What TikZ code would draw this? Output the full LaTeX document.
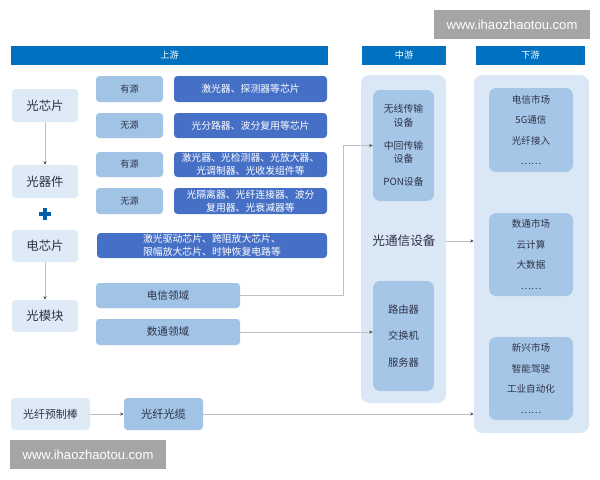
\documentclass[tikz,border=0pt]{standalone}
\usepackage{fontspec}
\setmainfont{Liberation Sans}
\newfontfamily\cjk{Noto Sans CJK SC}
\usetikzlibrary{arrows.meta}
\definecolor{hdr}{RGB}{0,112,192}
\definecolor{darkbox}{RGB}{70,112,198}
\definecolor{midbox}{RGB}{160,195,230}
\definecolor{lightbox}{RGB}{222,235,247}
\definecolor{outerbox}{RGB}{218,232,246}
\definecolor{innerbox}{RGB}{166,198,232}
\definecolor{txt}{RGB}{45,50,70}
\definecolor{wmgray}{RGB}{165,165,165}
\definecolor{conncol}{RGB}{190,190,195}
\tikzset{
  base/.style={inner sep=0pt, align=center, rounded corners=2.5pt},
  hdrbar/.style={base, rounded corners=0pt, fill=hdr, text=white, font=\cjk\fontsize{6.5}{8}\selectfont},
  lightnode/.style={base, fill=lightbox, text=txt, font=\cjk\fontsize{8.8}{10}\selectfont},
  srcnode/.style={base, fill=midbox, text=txt, font=\cjk\fontsize{6.5}{8}\selectfont},
  darknode/.style={base, fill=darkbox, text=white, font=\cjk\fontsize{7}{9.5}\selectfont},
  fieldnode/.style={base, fill=midbox, text=txt, font=\cjk\fontsize{7.5}{9}\selectfont},
  outernode/.style={base, rounded corners=6pt, fill=outerbox},
  innernode/.style={base, rounded corners=5pt, fill=innerbox, text=txt, font=\cjk\fontsize{7}{9.5}\selectfont},
  downnode/.style={base, rounded corners=5pt, fill=innerbox, text=txt, font=\cjk\fontsize{6.8}{14.5}\selectfont},
  wmnode/.style={inner sep=0pt, fill=wmgray, text=white, font=\fontsize{9.3}{11}\selectfont},
  conn/.style={draw=conncol, line width=0.6pt, -{Stealth[length=2.5pt,width=2.2pt,color=black!70]}},
}
\newcommand\bx[7]{\node[#6, minimum width={(#4-#2)*0.025cm}, minimum height={(#5-#3)*0.025cm}] (#1) at ({(#2+#4)/2},{(#3+#5)/2}) {#7};}
\begin{document}
\begin{tikzpicture}[x=0.025cm, y=-0.025cm]
\useasboundingbox[fill=white] (0,0) rectangle (600,480);
% watermarks
\bx{wmA}{434}{10}{590}{39}{wmnode}{www.ihaozhaotou.com}
\bx{wmB}{10}{440}{166}{469}{wmnode}{www.ihaozhaotou.com}
% headers
\bx{hU}{11}{46}{328}{65}{hdrbar}{上游}
\bx{hM}{362}{46}{446}{65}{hdrbar}{中游}
\bx{hD}{476}{46}{585}{65}{hdrbar}{下游}
% left column
\bx{chip}{12}{89}{78}{122}{lightnode}{光芯片}
\bx{dev}{12}{165}{78}{198}{lightnode}{光器件}
\bx{echip}{12}{230}{78}{262}{lightnode}{电芯片}
\bx{mod}{12}{300}{78}{332}{lightnode}{光模块}
\node[inner sep=0pt] (plus) at (45,214) {\tikz[x=0.025cm,y=-0.025cm]{\fill[hdr!85!black] (-6,-1.8) rectangle (6,1.8); \fill[hdr!85!black] (-1.8,-6) rectangle (1.8,6);}};
% source boxes
\bx{s1}{96}{76}{163}{102}{srcnode}{有源}
\bx{s2}{96}{113}{163}{138}{srcnode}{无源}
\bx{s3}{96}{152}{163}{177}{srcnode}{有源}
\bx{s4}{96}{188}{163}{214}{srcnode}{无源}
\bx{d1}{174}{76}{327}{102}{darknode}{激光器、探测器等芯片}
\bx{d2}{174}{113}{327}{138}{darknode}{光分路器、波分复用等芯片}
\bx{d3}{174}{152}{327}{177}{darknode}{激光器、光检测器、光放大器、\\光调制器、光收发组件等}
\bx{d4}{174}{188}{327}{214}{darknode}{光隔离器、光纤连接器、波分\\复用器、光衰减器等}
\bx{d5}{97}{233}{327}{258}{darknode}{激光驱动芯片、跨阻放大芯片、\\限幅放大芯片、时钟恢复电路等}
\bx{tel}{96}{283}{240}{308}{fieldnode}{电信领域}
\bx{dat}{96}{319}{240}{345}{fieldnode}{数通领域}
% bottom row
\bx{pre}{11}{398}{90}{430}{lightnode, font=\cjk\fontsize{7.8}{9}\selectfont}{光纤预制棒}
\bx{cable}{124}{398}{203}{430}{fieldnode, font=\cjk\fontsize{8}{9}\selectfont}{光纤光缆}
% midstream
\bx{mout}{361}{75}{446}{403}{outernode}{}
\bx{mtop}{373}{90}{434}{201}{innernode}{无线传输\\设备\\[7pt]中回传输\\设备\\[7pt]PON设备}
\bx{mbot}{373}{281}{434}{391}{innernode, font=\cjk\fontsize{7.3}{19}\selectfont}{路由器\\交换机\\服务器}
\node[inner sep=0pt, text=txt, font=\cjk\fontsize{9}{10}\selectfont] (comm) at (404,241) {光通信设备};
% downstream
\bx{dout}{474}{75}{589}{433}{outernode}{}
\bx{m1}{489}{88}{573}{172}{downnode}{电信市场\\5G通信\\光纤接入\\……}
\bx{m2}{489}{213}{573}{296}{downnode}{数通市场\\云计算\\大数据\\……}
\bx{m3}{489}{337}{573}{420}{downnode}{新兴市场\\智能驾驶\\工业自动化\\……}
% connectors
\draw[conn] (chip.south) -- (dev.north);
\draw[conn] (echip.south) -- (mod.north);
\coordinate (k) at (343,295.5);
\draw[conn] (tel.east) -- (k) |- (mtop.west);
\draw[conn] (dat.east) -- (dat.east -| mbot.west);
\draw[conn] (mout.east |- comm) -- (dout.west |- comm);
\draw[conn] (pre.east) -- (cable.west);
\draw[conn] (cable.east) -- (cable.east -| dout.west);
\end{tikzpicture}
\end{document}
